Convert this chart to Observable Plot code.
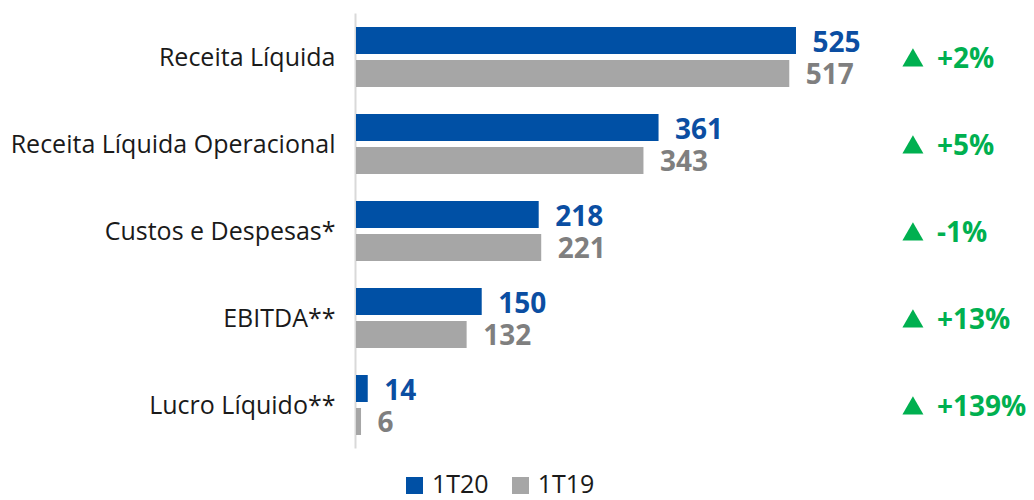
<!DOCTYPE html>
<html>
<head>
<meta charset="utf-8">
<script src="https://cdn.jsdelivr.net/npm/d3@7"></script>
<script src="https://cdn.jsdelivr.net/npm/@observablehq/plot@0.6"></script>
<style>
  body { margin: 0; background: #fff; font-family: "Open Sans", sans-serif; }
  #legend { display: flex; align-items: center; margin-left: 406px; padding-top: 2px; height: 33px; line-height: 33px; font-size: 25px; color: #1a1a1a; }
  .sw { width: 17px; height: 17px; display: inline-block; margin-right: 9px; margin-top: 4px; }
  .item { display: flex; align-items: center; margin-right: 23px; }
</style>
</head>
<body>
<div id="chart"></div>
<div id="legend"></div>
<script>
const categories = ["Receita Líquida", "Receita Líquida Operacional", "Custos e Despesas*", "EBITDA**", "Lucro Líquido**"];
const values1T20 = [525, 361, 218, 150, 14];
const values1T19 = [517, 343, 221, 132, 6];
const changes = ["+2%", "+5%", "-1%", "+13%", "+139%"];
const seriesNames = ["1T20", "1T19"];
const colors = {"1T20": "#0050a5", "1T19": "#a6a6a6"};
const labelColors = {"1T20": "#0b4ea2", "1T19": "#7f7f7f"};
const changeColumn = 652;

const cur = categories.map((c, i) => ({category: c, value: values1T20[i]}));
const prev = categories.map((c, i) => ({category: c, value: values1T19[i]}));
const chg = categories.map((c, i) => ({category: c, text: changes[i]}));

const chart = Plot.plot({
  width: 1034,
  height: 465,
  marginLeft: 356,
  marginRight: 0,
  marginTop: 13.5,
  marginBottom: 16.5,
  x: {domain: [0, 809], axis: null},
  y: {domain: categories, paddingInner: 0.31, paddingOuter: 0.155, label: null, tickSize: 0, tickPadding: 21},
  style: {fontFamily: "Open Sans", fontSize: "25px", color: "#1a1a1a", background: "#fff"},
  marks: [
    Plot.ruleX([0], {stroke: "#d9d9d9", strokeWidth: 2, dx: -1}),
    Plot.barX(cur, {x: "value", y: "category", fill: colors["1T20"], insetBottom: 33}),
    Plot.barX(prev, {x: "value", y: "category", fill: colors["1T19"], insetTop: 33}),
    Plot.text(cur, {x: "value", y: "category", text: d => String(d.value), dx: 16, dy: -14, textAnchor: "start", fill: labelColors["1T20"], fontWeight: "bold", fontSize: 28}),
    Plot.text(prev, {x: "value", y: "category", text: d => String(d.value), dx: 16, dy: 18, textAnchor: "start", fill: labelColors["1T19"], fontWeight: "bold", fontSize: 28}),
    Plot.dot(chg, {x: () => changeColumn, y: "category", symbol: "triangle", r: 7.8, fill: "#00b050", stroke: null, dx: 10, dy: 3}),
    Plot.text(chg, {x: () => changeColumn, y: "category", text: "text", textAnchor: "start", dx: 34, dy: 2, fill: "#00b050", fontWeight: "bold", fontSize: 28})
  ]
});
document.getElementById("chart").appendChild(chart);

const legend = document.getElementById("legend");
for (const s of seriesNames) {
  const item = document.createElement("div");
  item.className = "item";
  const sw = document.createElement("span");
  sw.className = "sw";
  sw.style.background = colors[s];
  item.appendChild(sw);
  item.appendChild(document.createTextNode(s));
  legend.appendChild(item);
}
</script>
</body>
</html>
